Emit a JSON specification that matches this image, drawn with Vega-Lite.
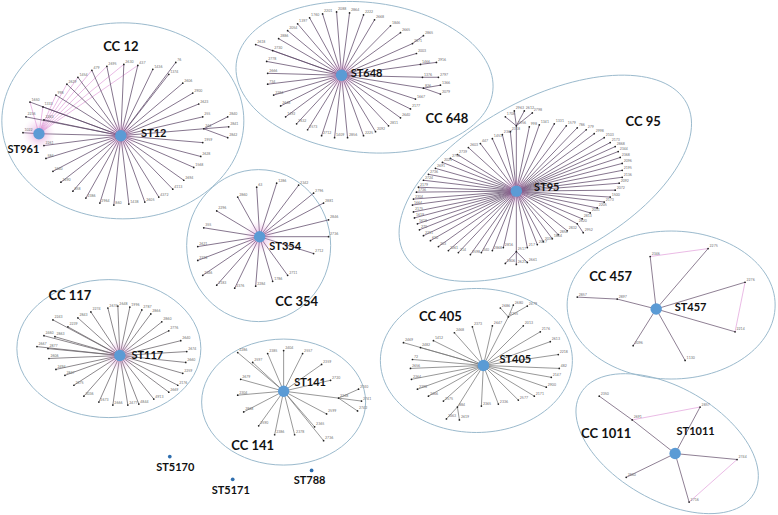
{
"$schema": "https://vega.github.io/schema/vega-lite/v6.json",
"width": 778, "height": 515,
"autosize": {"type": "fit", "contains": "padding"},
"padding": 0,
"background": "white",
"config": {"view": {"stroke": null}},
"datasets": {
"ell": [
{"cc":"CC12","x":122,"y":120},{"cc":"CC648","x":364,"y":76},{"cc":"CC95","x":545,"y":178},
{"cc":"CC354","x":258,"y":246},{"cc":"CC117","x":108,"y":350},{"cc":"CC141","x":283,"y":404},
{"cc":"CC405","x":476,"y":362},{"cc":"CC457","x":671,"y":306},{"cc":"CC1011","x":667,"y":446}
],
"pink": [
{"x":38,"y":133,"x2":42,"y2":106},{"x":38,"y":133,"x2":55,"y2":94},{"x":38,"y":133,"x2":66,"y2":83},
{"x":38,"y":133,"x2":77,"y2":76},{"x":38,"y":133,"x2":91,"y2":69},{"x":38,"y":133,"x2":106,"y2":65},
{"x":38,"y":133,"x2":123,"y2":63},{"x":38,"y":133,"x2":137,"y2":64},{"x":38,"y":133,"x2":43,"y2":119},
{"x":38,"y":133,"x2":29,"y2":101},
{"x":650,"y":257,"x2":708,"y2":249},{"x":745,"y":283,"x2":735,"y2":333},
{"x":632,"y":422,"x2":700,"y2":409},{"x":737,"y":462,"x2":689,"y2":505}
],
"kids": [
{"cc":"CC12","x":29,"y":101,"px":120,"py":135,"lab":"1650"},
{"cc":"CC12","x":25,"y":116,"px":120,"py":135,"lab":"2236"},
{"cc":"CC12","x":43,"y":119,"px":120,"py":135,"lab":"2263"},
{"cc":"CC12","x":42,"y":106,"px":120,"py":135,"lab":"1333"},
{"cc":"CC12","x":55,"y":94,"px":120,"py":135,"lab":"998"},
{"cc":"CC12","x":66,"y":83,"px":120,"py":135,"lab":"2629"},
{"cc":"CC12","x":77,"y":76,"px":120,"py":135,"lab":"1454"},
{"cc":"CC12","x":91,"y":69,"px":120,"py":135,"lab":"479"},
{"cc":"CC12","x":106,"y":65,"px":120,"py":135,"lab":"2695"},
{"cc":"CC12","x":123,"y":63,"px":120,"py":135,"lab":"2630"},
{"cc":"CC12","x":137,"y":64,"px":120,"py":135,"lab":"437"},
{"cc":"CC12","x":152,"y":68,"px":120,"py":135,"lab":"1436"},
{"cc":"CC12","x":175,"y":61,"px":120,"py":135,"lab":"76"},
{"cc":"CC12","x":168,"y":73,"px":120,"py":135,"lab":"1374"},
{"cc":"CC12","x":182,"y":82,"px":120,"py":135,"lab":"2606"},
{"cc":"CC12","x":192,"y":92,"px":120,"py":135,"lab":"2900"},
{"cc":"CC12","x":198,"y":103,"px":120,"py":135,"lab":"2623"},
{"cc":"CC12","x":202,"y":116,"px":120,"py":135,"lab":"255"},
{"cc":"CC12","x":203,"y":128,"px":120,"py":135,"lab":"244"},
{"cc":"CC12","x":202,"y":142,"px":120,"py":135,"lab":"1959"},
{"cc":"CC12","x":200,"y":156,"px":120,"py":135,"lab":"2628"},
{"cc":"CC12","x":193,"y":167,"px":120,"py":135,"lab":"1568"},
{"cc":"CC12","x":183,"y":180,"px":120,"py":135,"lab":"2694"},
{"cc":"CC12","x":172,"y":189,"px":120,"py":135,"lab":"4113"},
{"cc":"CC12","x":158,"y":197,"px":120,"py":135,"lab":"4372"},
{"cc":"CC12","x":144,"y":202,"px":120,"py":135,"lab":"2605"},
{"cc":"CC12","x":128,"y":204,"px":120,"py":135,"lab":"1438"},
{"cc":"CC12","x":113,"y":205,"px":120,"py":135,"lab":"860"},
{"cc":"CC12","x":99,"y":203,"px":120,"py":135,"lab":"2964"},
{"cc":"CC12","x":85,"y":198,"px":120,"py":135,"lab":"2386"},
{"cc":"CC12","x":72,"y":191,"px":120,"py":135,"lab":"858"},
{"cc":"CC12","x":60,"y":182,"px":120,"py":135,"lab":"2490"},
{"cc":"CC12","x":52,"y":171,"px":120,"py":135,"lab":"2440"},
{"cc":"CC12","x":45,"y":158,"px":120,"py":135,"lab":"584"},
{"cc":"CC12","x":43,"y":145,"px":120,"py":135,"lab":"2261"},
{"cc":"CC12","x":38,"y":133,"px":120,"py":135,"lab":""},
{"cc":"CC12","x":227,"y":116,"px":203,"py":128,"lab":"2840"},
{"cc":"CC12","x":228,"y":126,"px":203,"py":128,"lab":"2841"},
{"cc":"CC12","x":227,"y":137,"px":203,"py":128,"lab":"2842"},
{"cc":"CC12","x":22,"y":132,"px":38,"py":133,"lab":"1022"},
{"cc":"CC648","x":255,"y":43,"px":341,"py":74,"lab":"2618"},
{"cc":"CC648","x":272,"y":49,"px":341,"py":74,"lab":"2730"},
{"cc":"CC648","x":266,"y":60,"px":341,"py":74,"lab":"2778"},
{"cc":"CC648","x":267,"y":72,"px":341,"py":74,"lab":"2666"},
{"cc":"CC648","x":267,"y":83,"px":341,"py":74,"lab":"734"},
{"cc":"CC648","x":273,"y":94,"px":341,"py":74,"lab":"2284"},
{"cc":"CC648","x":280,"y":105,"px":341,"py":74,"lab":"2648"},
{"cc":"CC648","x":285,"y":116,"px":341,"py":74,"lab":"1492"},
{"cc":"CC648","x":296,"y":123,"px":341,"py":74,"lab":"2632"},
{"cc":"CC648","x":307,"y":129,"px":341,"py":74,"lab":"2573"},
{"cc":"CC648","x":321,"y":135,"px":341,"py":74,"lab":"2712"},
{"cc":"CC648","x":334,"y":137,"px":341,"py":74,"lab":"1409"},
{"cc":"CC648","x":347,"y":137,"px":341,"py":74,"lab":"2856"},
{"cc":"CC648","x":363,"y":135,"px":341,"py":74,"lab":"2225"},
{"cc":"CC648","x":375,"y":131,"px":341,"py":74,"lab":"2092"},
{"cc":"CC648","x":388,"y":125,"px":341,"py":74,"lab":"2811"},
{"cc":"CC648","x":400,"y":117,"px":341,"py":74,"lab":"2640"},
{"cc":"CC648","x":410,"y":108,"px":341,"py":74,"lab":"2177"},
{"cc":"CC648","x":415,"y":98,"px":341,"py":74,"lab":"1667"},
{"cc":"CC648","x":423,"y":87,"px":341,"py":74,"lab":"826"},
{"cc":"CC648","x":422,"y":76,"px":341,"py":74,"lab":"1376"},
{"cc":"CC648","x":420,"y":63,"px":341,"py":74,"lab":"1466"},
{"cc":"CC648","x":416,"y":52,"px":341,"py":74,"lab":"2003"},
{"cc":"CC648","x":412,"y":42,"px":341,"py":74,"lab":"2871"},
{"cc":"CC648","x":400,"y":31,"px":341,"py":74,"lab":"2665"},
{"cc":"CC648","x":390,"y":24,"px":341,"py":74,"lab":"1846"},
{"cc":"CC648","x":374,"y":18,"px":341,"py":74,"lab":"2668"},
{"cc":"CC648","x":363,"y":13,"px":341,"py":74,"lab":"2222"},
{"cc":"CC648","x":349,"y":11,"px":341,"py":74,"lab":"2864"},
{"cc":"CC648","x":336,"y":10,"px":341,"py":74,"lab":"2088"},
{"cc":"CC648","x":322,"y":12,"px":341,"py":74,"lab":"2201"},
{"cc":"CC648","x":309,"y":16,"px":341,"py":74,"lab":"1760"},
{"cc":"CC648","x":297,"y":22,"px":341,"py":74,"lab":"1397"},
{"cc":"CC648","x":287,"y":29,"px":341,"py":74,"lab":"2054"},
{"cc":"CC648","x":278,"y":37,"px":341,"py":74,"lab":"2886"},
{"cc":"CC648","x":440,"y":84,"px":423,"py":87,"lab":"1366"},
{"cc":"CC648","x":440,"y":93,"px":423,"py":87,"lab":"2079"},
{"cc":"CC648","x":438,"y":76,"px":422,"py":76,"lab":"2797"},
{"cc":"CC648","x":436,"y":61,"px":420,"py":63,"lab":"2916"},
{"cc":"CC648","x":423,"y":34,"px":412,"py":42,"lab":"2865"},
{"cc":"CC95","x":529,"y":126,"px":516,"py":191,"lab":"998"},
{"cc":"CC95","x":539,"y":124,"px":516,"py":191,"lab":"1341"},
{"cc":"CC95","x":554,"y":123,"px":516,"py":191,"lab":"1331"},
{"cc":"CC95","x":566,"y":125,"px":516,"py":191,"lab":"1579"},
{"cc":"CC95","x":577,"y":127,"px":516,"py":191,"lab":"786"},
{"cc":"CC95","x":586,"y":129,"px":516,"py":191,"lab":"279"},
{"cc":"CC95","x":594,"y":133,"px":516,"py":191,"lab":"2998"},
{"cc":"CC95","x":604,"y":137,"px":516,"py":191,"lab":"2103"},
{"cc":"CC95","x":610,"y":142,"px":516,"py":191,"lab":"2173"},
{"cc":"CC95","x":615,"y":146,"px":516,"py":191,"lab":"2868"},
{"cc":"CC95","x":618,"y":151,"px":516,"py":191,"lab":"2344"},
{"cc":"CC95","x":620,"y":157,"px":516,"py":191,"lab":"2368"},
{"cc":"CC95","x":622,"y":163,"px":516,"py":191,"lab":"2096"},
{"cc":"CC95","x":622,"y":170,"px":516,"py":191,"lab":"2195"},
{"cc":"CC95","x":622,"y":177,"px":516,"py":191,"lab":"2136"},
{"cc":"CC95","x":619,"y":183,"px":516,"py":191,"lab":"2092"},
{"cc":"CC95","x":615,"y":190,"px":516,"py":191,"lab":"2072"},
{"cc":"CC95","x":610,"y":197,"px":516,"py":191,"lab":"1500"},
{"cc":"CC95","x":604,"y":202,"px":516,"py":191,"lab":"2173"},
{"cc":"CC95","x":597,"y":208,"px":516,"py":191,"lab":"2205"},
{"cc":"CC95","x":590,"y":213,"px":516,"py":191,"lab":"2031"},
{"cc":"CC95","x":582,"y":219,"px":516,"py":191,"lab":"2813"},
{"cc":"CC95","x":577,"y":224,"px":516,"py":191,"lab":"2620"},
{"cc":"CC95","x":567,"y":231,"px":516,"py":191,"lab":"2832"},
{"cc":"CC95","x":558,"y":235,"px":516,"py":191,"lab":"2854"},
{"cc":"CC95","x":552,"y":239,"px":516,"py":191,"lab":"1804"},
{"cc":"CC95","x":543,"y":242,"px":516,"py":191,"lab":"2035"},
{"cc":"CC95","x":537,"y":245,"px":516,"py":191,"lab":"2017"},
{"cc":"CC95","x":527,"y":248,"px":516,"py":191,"lab":"217"},
{"cc":"CC95","x":516,"y":252,"px":516,"py":191,"lab":"2517"},
{"cc":"CC95","x":503,"y":248,"px":516,"py":191,"lab":"2816"},
{"cc":"CC95","x":492,"y":251,"px":516,"py":191,"lab":"2868"},
{"cc":"CC95","x":481,"y":253,"px":516,"py":191,"lab":"240"},
{"cc":"CC95","x":470,"y":255,"px":516,"py":191,"lab":"2598"},
{"cc":"CC95","x":458,"y":253,"px":516,"py":191,"lab":"214"},
{"cc":"CC95","x":448,"y":251,"px":516,"py":191,"lab":"2261"},
{"cc":"CC95","x":438,"y":247,"px":516,"py":191,"lab":"203"},
{"cc":"CC95","x":430,"y":241,"px":516,"py":191,"lab":"610"},
{"cc":"CC95","x":423,"y":236,"px":516,"py":191,"lab":"2211"},
{"cc":"CC95","x":419,"y":230,"px":516,"py":191,"lab":"270"},
{"cc":"CC95","x":417,"y":224,"px":516,"py":191,"lab":"1618"},
{"cc":"CC95","x":414,"y":218,"px":516,"py":191,"lab":"1619"},
{"cc":"CC95","x":413,"y":212,"px":516,"py":191,"lab":"2175"},
{"cc":"CC95","x":412,"y":205,"px":516,"py":191,"lab":"1664"},
{"cc":"CC95","x":413,"y":199,"px":516,"py":191,"lab":"2304"},
{"cc":"CC95","x":416,"y":192,"px":516,"py":191,"lab":"1736"},
{"cc":"CC95","x":418,"y":187,"px":516,"py":191,"lab":"2179"},
{"cc":"CC95","x":423,"y":180,"px":516,"py":191,"lab":"2724"},
{"cc":"CC95","x":428,"y":174,"px":516,"py":191,"lab":"2736"},
{"cc":"CC95","x":435,"y":168,"px":516,"py":191,"lab":"2691"},
{"cc":"CC95","x":442,"y":162,"px":516,"py":191,"lab":"2021"},
{"cc":"CC95","x":450,"y":158,"px":516,"py":191,"lab":"2756"},
{"cc":"CC95","x":457,"y":154,"px":516,"py":191,"lab":"2739"},
{"cc":"CC95","x":468,"y":147,"px":516,"py":191,"lab":"2603"},
{"cc":"CC95","x":480,"y":143,"px":516,"py":191,"lab":"447"},
{"cc":"CC95","x":492,"y":138,"px":516,"py":191,"lab":"1451"},
{"cc":"CC95","x":502,"y":134,"px":516,"py":191,"lab":"2367"},
{"cc":"CC95","x":510,"y":131,"px":516,"py":191,"lab":"2318"},
{"cc":"CC95","x":516,"y":125,"px":516,"py":191,"lab":"2356"},
{"cc":"CC95","x":505,"y":116,"px":516,"py":125,"lab":"1708"},
{"cc":"CC95","x":514,"y":110,"px":516,"py":125,"lab":"2963"},
{"cc":"CC95","x":524,"y":110,"px":516,"py":125,"lab":"2612"},
{"cc":"CC95","x":532,"y":112,"px":516,"py":125,"lab":"2798"},
{"cc":"CC95","x":505,"y":264,"px":516,"py":252,"lab":"1806"},
{"cc":"CC95","x":516,"y":265,"px":516,"py":252,"lab":"2621"},
{"cc":"CC95","x":527,"y":263,"px":516,"py":252,"lab":"2661"},
{"cc":"CC95","x":583,"y":233,"px":577,"py":224,"lab":"2952"},
{"cc":"CC354","x":256,"y":187,"px":259,"py":237,"lab":"63"},
{"cc":"CC354","x":276,"y":183,"px":259,"py":237,"lab":"1286"},
{"cc":"CC354","x":298,"y":185,"px":259,"py":237,"lab":"2342"},
{"cc":"CC354","x":313,"y":193,"px":259,"py":237,"lab":"2796"},
{"cc":"CC354","x":323,"y":203,"px":259,"py":237,"lab":"2881"},
{"cc":"CC354","x":328,"y":220,"px":259,"py":237,"lab":"2846"},
{"cc":"CC354","x":328,"y":237,"px":259,"py":237,"lab":"2736"},
{"cc":"CC354","x":313,"y":254,"px":259,"py":237,"lab":"2712"},
{"cc":"CC354","x":287,"y":276,"px":259,"py":237,"lab":"2711"},
{"cc":"CC354","x":272,"y":282,"px":259,"py":237,"lab":"1786"},
{"cc":"CC354","x":255,"y":287,"px":259,"py":237,"lab":"2284"},
{"cc":"CC354","x":234,"y":289,"px":259,"py":237,"lab":"2376"},
{"cc":"CC354","x":216,"y":286,"px":259,"py":237,"lab":"2183"},
{"cc":"CC354","x":202,"y":276,"px":259,"py":237,"lab":"2346"},
{"cc":"CC354","x":197,"y":261,"px":259,"py":237,"lab":"2318"},
{"cc":"CC354","x":197,"y":247,"px":259,"py":237,"lab":"2621"},
{"cc":"CC354","x":203,"y":228,"px":259,"py":237,"lab":"355"},
{"cc":"CC354","x":216,"y":211,"px":259,"py":237,"lab":"2296"},
{"cc":"CC354","x":237,"y":197,"px":259,"py":237,"lab":"2860"},
{"cc":"CC117","x":52,"y":321,"px":119,"py":357,"lab":"2243"},
{"cc":"CC117","x":67,"y":328,"px":119,"py":357,"lab":"2239"},
{"cc":"CC117","x":77,"y":319,"px":119,"py":357,"lab":"2843"},
{"cc":"CC117","x":90,"y":313,"px":119,"py":357,"lab":"2274"},
{"cc":"CC117","x":107,"y":309,"px":119,"py":357,"lab":"2674"},
{"cc":"CC117","x":117,"y":307,"px":119,"py":357,"lab":"2648"},
{"cc":"CC117","x":129,"y":308,"px":119,"py":357,"lab":"1996"},
{"cc":"CC117","x":141,"y":311,"px":119,"py":357,"lab":"2787"},
{"cc":"CC117","x":150,"y":315,"px":119,"py":357,"lab":"2866"},
{"cc":"CC117","x":161,"y":323,"px":119,"py":357,"lab":"2860"},
{"cc":"CC117","x":168,"y":332,"px":119,"py":357,"lab":"2776"},
{"cc":"CC117","x":180,"y":342,"px":119,"py":357,"lab":"2640"},
{"cc":"CC117","x":186,"y":353,"px":119,"py":357,"lab":"2674"},
{"cc":"CC117","x":185,"y":364,"px":119,"py":357,"lab":"2660"},
{"cc":"CC117","x":182,"y":375,"px":119,"py":357,"lab":"2259"},
{"cc":"CC117","x":177,"y":387,"px":119,"py":357,"lab":"2176"},
{"cc":"CC117","x":168,"y":394,"px":119,"py":357,"lab":"2669"},
{"cc":"CC117","x":153,"y":401,"px":119,"py":357,"lab":"4913"},
{"cc":"CC117","x":138,"y":406,"px":119,"py":357,"lab":"4844"},
{"cc":"CC117","x":127,"y":407,"px":119,"py":357,"lab":"2477"},
{"cc":"CC117","x":112,"y":407,"px":119,"py":357,"lab":"2666"},
{"cc":"CC117","x":98,"y":404,"px":119,"py":357,"lab":"2673"},
{"cc":"CC117","x":83,"y":398,"px":119,"py":357,"lab":"3036"},
{"cc":"CC117","x":73,"y":387,"px":119,"py":357,"lab":"2675"},
{"cc":"CC117","x":64,"y":377,"px":119,"py":357,"lab":"2847"},
{"cc":"CC117","x":55,"y":371,"px":119,"py":357,"lab":"2494"},
{"cc":"CC117","x":48,"y":360,"px":119,"py":357,"lab":"2606"},
{"cc":"CC117","x":47,"y":350,"px":119,"py":357,"lab":"2877"},
{"cc":"CC117","x":36,"y":348,"px":119,"py":357,"lab":"2667"},
{"cc":"CC117","x":54,"y":338,"px":119,"py":357,"lab":"2863"},
{"cc":"CC117","x":43,"y":337,"px":119,"py":357,"lab":"2460"},
{"cc":"CC141","x":237,"y":354,"px":283,"py":393,"lab":"2286"},
{"cc":"CC141","x":252,"y":364,"px":283,"py":393,"lab":"2597"},
{"cc":"CC141","x":267,"y":355,"px":283,"py":393,"lab":"2385"},
{"cc":"CC141","x":283,"y":352,"px":283,"py":393,"lab":"2404"},
{"cc":"CC141","x":302,"y":355,"px":283,"py":393,"lab":"2557"},
{"cc":"CC141","x":321,"y":366,"px":283,"py":393,"lab":"2359"},
{"cc":"CC141","x":330,"y":382,"px":283,"py":393,"lab":"2720"},
{"cc":"CC141","x":338,"y":400,"px":283,"py":393,"lab":"2368"},
{"cc":"CC141","x":326,"y":416,"px":283,"py":393,"lab":"2599"},
{"cc":"CC141","x":314,"y":429,"px":283,"py":393,"lab":"2365"},
{"cc":"CC141","x":323,"y":443,"px":283,"py":393,"lab":"2736"},
{"cc":"CC141","x":294,"y":437,"px":283,"py":393,"lab":"2378"},
{"cc":"CC141","x":274,"y":437,"px":283,"py":393,"lab":"2386"},
{"cc":"CC141","x":258,"y":428,"px":283,"py":393,"lab":"2590"},
{"cc":"CC141","x":243,"y":414,"px":283,"py":393,"lab":"2868"},
{"cc":"CC141","x":237,"y":397,"px":283,"py":393,"lab":"2304"},
{"cc":"CC141","x":240,"y":381,"px":283,"py":393,"lab":"2679"},
{"cc":"CC141","x":358,"y":391,"px":338,"py":400,"lab":"2740"},
{"cc":"CC141","x":361,"y":403,"px":338,"py":400,"lab":"2741"},
{"cc":"CC141","x":357,"y":413,"px":338,"py":400,"lab":"2742"},
{"cc":"CC405","x":508,"y":318,"px":483,"py":367,"lab":"2255"},
{"cc":"CC405","x":492,"y":327,"px":483,"py":367,"lab":"2647"},
{"cc":"CC405","x":472,"y":328,"px":483,"py":367,"lab":"2373"},
{"cc":"CC405","x":454,"y":334,"px":483,"py":367,"lab":"2468"},
{"cc":"CC405","x":433,"y":342,"px":483,"py":367,"lab":"1412"},
{"cc":"CC405","x":420,"y":349,"px":483,"py":367,"lab":"2482"},
{"cc":"CC405","x":403,"y":344,"px":483,"py":367,"lab":"2469"},
{"cc":"CC405","x":412,"y":361,"px":483,"py":367,"lab":"72"},
{"cc":"CC405","x":410,"y":370,"px":483,"py":367,"lab":"2656"},
{"cc":"CC405","x":411,"y":381,"px":483,"py":367,"lab":"2364"},
{"cc":"CC405","x":417,"y":391,"px":483,"py":367,"lab":"2398"},
{"cc":"CC405","x":428,"y":398,"px":483,"py":367,"lab":"2466"},
{"cc":"CC405","x":443,"y":403,"px":483,"py":367,"lab":"2575"},
{"cc":"CC405","x":457,"y":409,"px":483,"py":367,"lab":"884"},
{"cc":"CC405","x":481,"y":408,"px":483,"py":367,"lab":"2365"},
{"cc":"CC405","x":498,"y":406,"px":483,"py":367,"lab":"2336"},
{"cc":"CC405","x":518,"y":402,"px":483,"py":367,"lab":"2577"},
{"cc":"CC405","x":534,"y":398,"px":483,"py":367,"lab":"2171"},
{"cc":"CC405","x":546,"y":389,"px":483,"py":367,"lab":"2900"},
{"cc":"CC405","x":551,"y":379,"px":483,"py":367,"lab":"2147"},
{"cc":"CC405","x":559,"y":370,"px":483,"py":367,"lab":"482"},
{"cc":"CC405","x":558,"y":356,"px":483,"py":367,"lab":"2218"},
{"cc":"CC405","x":550,"y":343,"px":483,"py":367,"lab":"2613"},
{"cc":"CC405","x":540,"y":333,"px":483,"py":367,"lab":"2176"},
{"cc":"CC405","x":523,"y":327,"px":483,"py":367,"lab":"2013"},
{"cc":"CC405","x":500,"y":309,"px":508,"py":318,"lab":"2686"},
{"cc":"CC405","x":513,"y":306,"px":508,"py":318,"lab":"2680"},
{"cc":"CC405","x":527,"y":307,"px":508,"py":318,"lab":"2479"},
{"cc":"CC405","x":446,"y":421,"px":457,"py":409,"lab":"2463"},
{"cc":"CC405","x":459,"y":422,"px":457,"py":409,"lab":"2619"},
{"cc":"CC457","x":650,"y":257,"px":656,"py":310,"lab":"2346"},
{"cc":"CC457","x":708,"y":249,"px":656,"py":310,"lab":"2275"},
{"cc":"CC457","x":745,"y":283,"px":656,"py":310,"lab":"2276"},
{"cc":"CC457","x":735,"y":333,"px":656,"py":310,"lab":"2214"},
{"cc":"CC457","x":685,"y":362,"px":656,"py":310,"lab":"1130"},
{"cc":"CC457","x":633,"y":347,"px":656,"py":310,"lab":"2096"},
{"cc":"CC457","x":617,"y":300,"px":656,"py":310,"lab":"2897"},
{"cc":"CC457","x":577,"y":298,"px":617,"py":300,"lab":"2857"},
{"cc":"CC1011","x":632,"y":422,"px":675,"py":456,"lab":"2691"},
{"cc":"CC1011","x":599,"y":398,"px":632,"py":422,"lab":"2350"},
{"cc":"CC1011","x":700,"y":409,"px":675,"py":456,"lab":"2857"},
{"cc":"CC1011","x":737,"y":462,"px":675,"py":456,"lab":"2744"},
{"cc":"CC1011","x":689,"y":505,"px":675,"py":456,"lab":"2716"},
{"cc":"CC1011","x":626,"y":480,"px":675,"py":456,"lab":"2860"}
],
"hubs": [
{"n":"ST12","x":120,"y":135},{"n":"ST961","x":38,"y":133},{"n":"ST648","x":341,"y":74},
{"n":"ST95","x":516,"y":191},{"n":"ST354","x":259,"y":237},{"n":"ST117","x":119,"y":357},
{"n":"ST141","x":283,"y":393},{"n":"ST405","x":483,"y":367},{"n":"ST457","x":656,"y":310},
{"n":"ST1011","x":675,"y":456}
],
"singles": [
{"n":"ST5170","x":169,"y":459},{"n":"ST5171","x":232,"y":482},{"n":"ST788","x":311,"y":473}
],
"stlab": [
{"t":"ST12","x":153,"y":133},{"t":"ST961","x":22.5,"y":149},{"t":"ST648","x":366,"y":73},
{"t":"ST95","x":546.5,"y":188},{"t":"ST354","x":284.5,"y":247.5},{"t":"ST117","x":146.5,"y":357},
{"t":"ST141","x":309.5,"y":385},{"t":"ST405","x":515,"y":362},{"t":"ST457","x":690.5,"y":309},
{"t":"ST1011","x":695.5,"y":434},{"t":"ST5170","x":174.5,"y":471},{"t":"ST5171","x":230,"y":494},
{"t":"ST788","x":309,"y":484}
],
"cclab": [
{"t":"CC 12","x":120,"y":45},{"t":"CC 648","x":446.5,"y":118},{"t":"CC 95","x":643,"y":121},
{"t":"CC 354","x":296,"y":303},{"t":"CC 117","x":69,"y":297},{"t":"CC 141","x":252,"y":448},
{"t":"CC 405","x":440,"y":318},{"t":"CC 457","x":610.5,"y":278},{"t":"CC 1011","x":606,"y":436}
]
},
"encoding": {
"x": {"field": "x", "type": "quantitative", "scale": {"domain": [0, 778], "nice": false, "zero": false}, "axis": null},
"y": {"field": "y", "type": "quantitative", "scale": {"domain": [0, 515], "nice": false, "zero": false, "reverse": true}, "axis": null}
},
"layer": [
{
"data": {"name": "ell"},
"mark": {"type": "point", "filled": false, "stroke": "#9bbacd", "strokeWidth": 1, "size": 4, "opacity": 1},
"encoding": {
"shape": {"field": "cc", "type": "nominal", "legend": null, "scale": {
"domain": ["CC12","CC648","CC95","CC354","CC117","CC141","CC405","CC457","CC1011"],
"range": [
"M -121 0 A 121 98 0 1 1 121 0 A 121 98 0 1 1 -121 0 Z",
"M -128.3 -13.5 A 129 75 6 1 1 128.3 13.5 A 129 75 6 1 1 -128.3 -13.5 Z",
"M -141.3 75.1 A 160 80 -28 1 1 141.3 -75.1 A 160 80 -28 1 1 -141.3 75.1 Z",
"M -72 0 A 72 76 0 1 1 72 0 A 72 76 0 1 1 -72 0 Z",
"M -92 0 A 92 69 0 1 1 92 0 A 92 69 0 1 1 -92 0 Z",
"M -82 0 A 82 63 0 1 1 82 0 A 82 63 0 1 1 -82 0 Z",
"M -96 0 A 96 72 0 1 1 96 0 A 96 72 0 1 1 -96 0 Z",
"M -104 0 A 104 74 0 1 1 104 0 A 104 74 0 1 1 -104 0 Z",
"M -86.6 -50 A 100 56 30 1 1 86.6 50 A 100 56 30 1 1 -86.6 -50 Z"
]}}
}
},
{
"data": {"name": "pink"},
"mark": {"type": "rule", "stroke": "#e4a9de", "strokeWidth": 0.8},
"encoding": {"x2": {"field": "x2"}, "y2": {"field": "y2"}}
},
{
"data": {"name": "kids"},
"mark": {"type": "rule", "strokeWidth": 0.75},
"encoding": {
"x2": {"field": "px"}, "y2": {"field": "py"},
"stroke": {"field": "cc", "type": "nominal", "legend": null, "scale": {
"domain": ["CC12","CC648","CC95","CC354","CC117","CC141","CC405","CC457","CC1011"],
"range": ["#5e4868","#5e4868","#5e4868","#5e4868","#666066","#777777","#767676","#6a5570","#6a5570"]}}
}
},
{
"data": {"name": "hubs"},
"transform": [{"filter": {"field": "n", "oneOf": ["ST12","ST648","ST95","ST354","ST117","ST961"]}}],
"mark": {"type": "point", "filled": true, "shape": "circle", "size": 1100, "opacity": 1,
"fill": {"gradient": "radial", "stops": [
{"offset": 0, "color": "rgba(190,80,180,0.55)"},
{"offset": 0.5, "color": "rgba(215,130,205,0.25)"},
{"offset": 1, "color": "rgba(235,180,230,0)"}]}}
},
{
"data": {"name": "kids"},
"mark": {"type": "point", "filled": true, "shape": "circle", "size": 3, "color": "#222222", "opacity": 1}
},
{
"data": {"name": "kids"},
"mark": {"type": "text", "fontSize": 3.5, "align": "left", "baseline": "bottom", "dx": 1.5, "dy": -0.5, "fill": "#707070", "font": "Lato"},
"encoding": {"text": {"field": "lab"}}
},
{
"data": {"name": "hubs"},
"mark": {"type": "point", "filled": true, "shape": "circle", "size": 130, "color": "#5b9bd5", "opacity": 1}
},
{
"data": {"name": "singles"},
"mark": {"type": "point", "filled": true, "shape": "circle", "size": 14, "color": "#2f6eae", "opacity": 1}
},
{
"data": {"name": "stlab"},
"mark": {"type": "text", "fontSize": 11, "fontWeight": "bold", "font": "Lato", "align": "center", "baseline": "middle", "color": "#111111"},
"encoding": {"text": {"field": "t"}}
},
{
"data": {"name": "cclab"},
"mark": {"type": "text", "fontSize": 13, "fontWeight": "bold", "font": "Lato", "align": "center", "baseline": "middle", "color": "#111111"},
"encoding": {"text": {"field": "t"}}
}
]
}
